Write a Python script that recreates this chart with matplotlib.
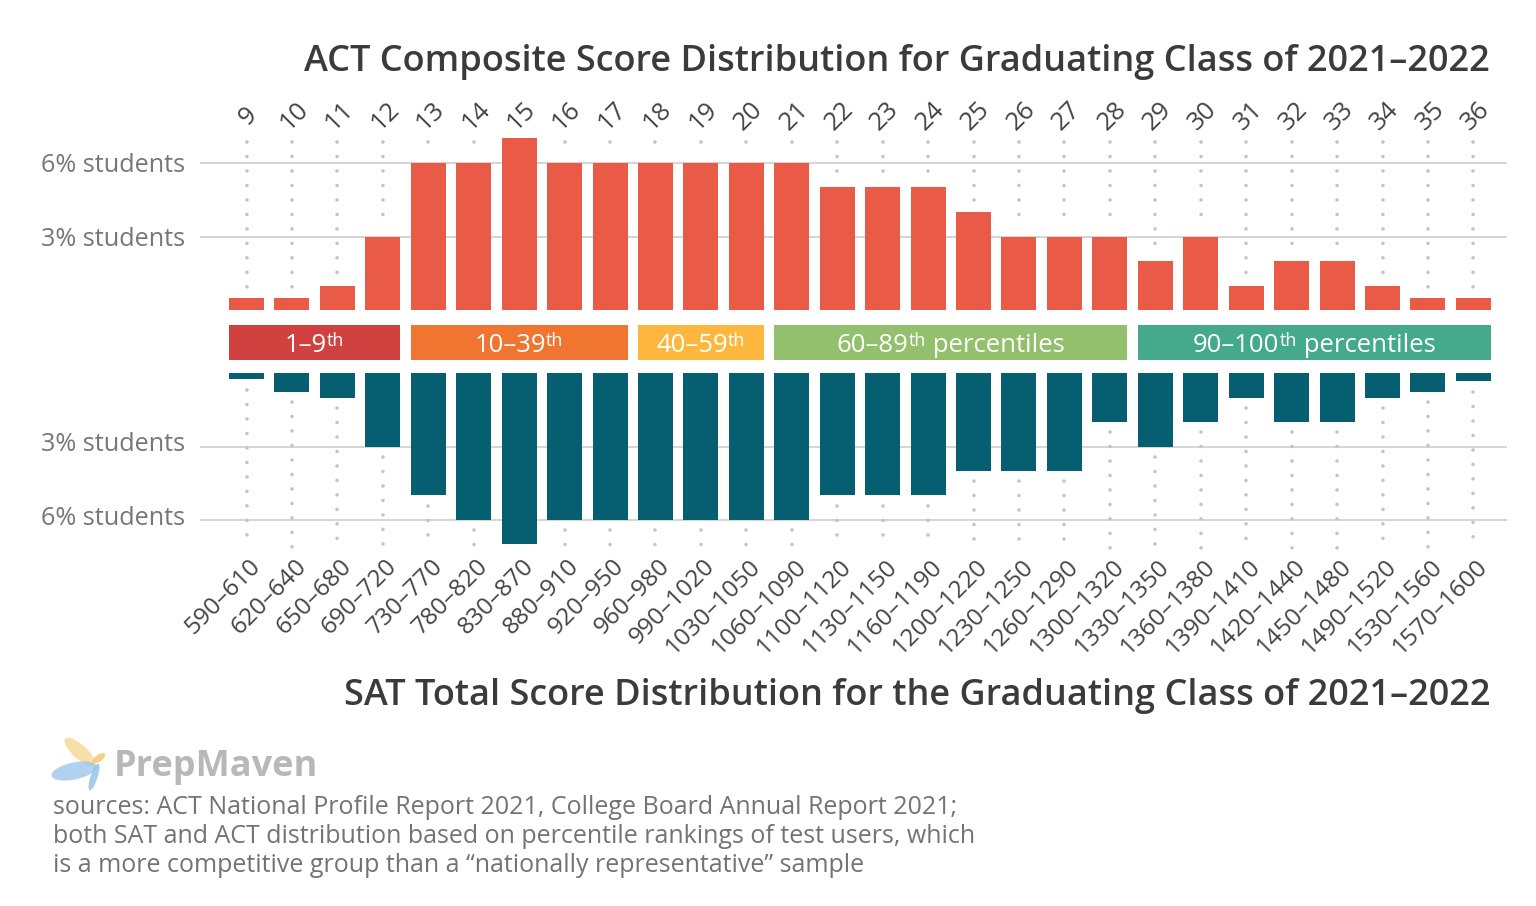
import matplotlib
matplotlib.use("Agg")
import matplotlib.pyplot as plt
from matplotlib.patches import Rectangle, Ellipse

plt.rcParams['font.family'] = ['Open Sans', 'DejaVu Sans']

# ---------------- data ----------------
act_scores = [str(s) for s in range(9, 37)]
act_pct = [0.5, 0.5, 1, 3, 6, 6, 7, 6, 6, 6, 6, 6, 6, 5, 5, 5, 4, 3, 3, 3,
           2, 3, 1, 2, 2, 1, 0.5, 0.5]
sat_ranges = ["590–610", "620–640", "650–680", "690–720", "730–770", "780–820",
              "830–870", "880–910", "920–950", "960–980", "990–1020", "1030–1050",
              "1060–1090", "1100–1120", "1130–1150", "1160–1190", "1200–1220",
              "1230–1250", "1260–1290", "1300–1320", "1330–1350", "1360–1380",
              "1390–1410", "1420–1440", "1450–1480", "1490–1520", "1530–1560",
              "1570–1600"]
sat_pct = [0.25, 0.75, 1, 3, 5, 6, 7, 6, 6, 6, 6, 6, 6, 5, 5, 5, 4, 4, 4, 2,
           3, 2, 1, 2, 2, 1, 0.75, 0.33]
band_labels = ["1–9", "10–39", "40–59", "60–89", "90–100"]
band_suffix = ["", "", "", " percentiles", " percentiles"]
band_start = [0, 4, 9, 12, 20]
band_end = [3, 8, 11, 19, 27]
band_colors = ['#d04140', '#f07531', '#fdb73f', '#92c06c', '#45aa8b']
grid_vals = [3, 6]
grid_labels = ["3% students", "6% students"]

act_title = "ACT Composite Score Distribution for Graduating Class of 2021–2022"
sat_title = "SAT Total Score Distribution for the Graduating Class of 2021–2022"
sources = ["sources: ACT National Profile Report 2021, College Board Annual Report 2021;",
           "both SAT and ACT distribution based on percentile rankings of test users, which",
           "is a more competitive group than a “nationally representative” sample"]

# ---------------- layout ----------------
W, H = 1536, 906
fig = plt.figure(figsize=(W / 100, H / 100), dpi=100)
fig.patch.set_facecolor('white')

pitch = 45.44
x0c = 246.5
xl = 200
xr = 1507
xlim = ((xl - x0c) / pitch, (xr - x0c) / pitch)
bw = 35 / pitch

top_base = 310.4
top_unit = 24.6
top_top = 90
bot_base = 373.3
bot_unit = 24.4
bot_bot = 560

def fax(ytop, ybot):
    return fig.add_axes([xl / W, 1 - ybot / H, (xr - xl) / W, (ybot - ytop) / H])

ax1 = fax(top_top, top_base)
ax1.set_xlim(*xlim)
ax1.set_ylim(0, (top_base - top_top) / top_unit)
ax2 = fax(bot_base, bot_bot)
ax2.set_xlim(*xlim)
ax2.set_ylim((bot_bot - bot_base) / bot_unit, 0)

for a in (ax1, ax2):
    a.axis('off')

# pixel overlay axes (for bands, logo)
pax = fig.add_axes([0, 0, 1, 1])
pax.set_xlim(0, W)
pax.set_ylim(H, 0)
pax.axis('off')

xs = list(range(len(act_scores)))
grid_c = '#d5d5d5'
dot_c = '#c4c4c4'
top_c = '#e95b47'
bot_c = '#065f70'
txt_c = '#3b3b3b'
lab_c = '#444444'

dot_style = dict(color=dot_c, lw=2.6, linestyle=(0, (0.01, 4.0)),
                 dash_capstyle='round', zorder=1)

# top chart
for g in grid_vals:
    ax1.axhline(g, color=grid_c, lw=1.4, zorder=0)
dot_top = (top_base - 142) / top_unit
for x, v in zip(xs, act_pct):
    start = v + 0.42
    if start < dot_top:
        ax1.plot([x, x], [dot_top, start], **dot_style)
ax1.bar(xs, act_pct, width=bw, color=top_c, zorder=2)
lab_y = (top_base - 116.5) / top_unit
for x, s in zip(xs, act_scores):
    ax1.text(x + 0.05, lab_y, s, rotation=45, ha='center', va='center',
             fontsize=18.5, color=lab_c, clip_on=False)

# bottom chart
for g in grid_vals:
    ax2.axhline(g, color=grid_c, lw=1.4, zorder=0)
dot_bot = (548 - bot_base) / bot_unit
for x, v in zip(xs, sat_pct):
    start = v + 0.42
    if start < dot_bot:
        ax2.plot([x, x], [start, dot_bot], **dot_style)
ax2.bar(xs, sat_pct, width=bw, color=bot_c, zorder=2)
sl_y = (563 - bot_base) / bot_unit
for x, s in zip(xs, sat_ranges):
    ax2.text(x + 0.24, sl_y, s, rotation=45, ha='right', va='center',
             rotation_mode='anchor', fontsize=17.6, color=lab_c, clip_on=False)

# y labels
for g, lab in zip(grid_vals, grid_labels):
    fig.text(185 / W, 1 - (top_base - g * top_unit + 3) / H, lab, ha='right',
             va='center', fontsize=18.2, color='#777777')
    fig.text(185 / W, 1 - (bot_base + g * bot_unit - 1.5) / H, lab, ha='right',
             va='center', fontsize=18.2, color='#777777')

# percentile bands (text with raised superscript "th")
fig.canvas.draw()
renderer = fig.canvas.get_renderer()
main_fs, sup_fs = 18.5, 13
for lab, suf, s, e, c in zip(band_labels, band_suffix, band_start, band_end, band_colors):
    left_px = x0c + (s - bw / 2) * pitch
    right_px = x0c + (e + bw / 2) * pitch
    pax.add_patch(Rectangle((left_px, 325), right_px - left_px, 35, color=c, lw=0, zorder=2))
    parts = [(lab, main_fs, 0), ("th", sup_fs, -5.5), (suf, main_fs, 0)]
    texts = []
    total = 0
    for t, fs, dy in parts:
        if not t:
            continue
        tt = pax.text(0, 0, t, fontsize=fs, color='white', ha='left',
                      va='baseline', zorder=3)
        w = tt.get_window_extent(renderer).width
        texts.append((tt, w, dy))
        total += w
    cx = (left_px + right_px) / 2
    xcur = cx - total / 2
    for tt, w, dy in texts:
        tt.set_position((xcur, 351.5 + dy))
        xcur += w

# titles
fig.text(1490 / W, 1 - 62.5 / H, act_title, ha='right', va='center',
         fontsize=26, fontweight='semibold', color=txt_c)
fig.text(1490 / W, 1 - 695.5 / H, sat_title, ha='right', va='center',
         fontsize=26, fontweight='semibold', color=txt_c)

# logo
pax.add_patch(Ellipse((80, 752), 40, 14, angle=42, color='#f7d48a', alpha=0.75, lw=0))
pax.add_patch(Ellipse((74, 771), 46, 17, angle=-12, color='#9cc7ec', alpha=0.8, lw=0))
pax.add_patch(Ellipse((94, 777), 7, 28, angle=18, color='#8fc0ea', alpha=0.8, lw=0))
pax.add_patch(Ellipse((99, 758), 14, 7, angle=-35, color='#f5c46a', alpha=0.8, lw=0))
fig.text(114 / W, 1 - 767 / H, "PrepMaven", ha='left', va='center',
         fontsize=26, fontweight='bold', color='#b8b8b8')

for i, line in enumerate(sources):
    fig.text(53 / W, 1 - (808 + i * 28.5) / H, line, ha='left', va='center',
             fontsize=18, color='#737373')

fig.savefig('out.png', dpi=100, facecolor='white')
